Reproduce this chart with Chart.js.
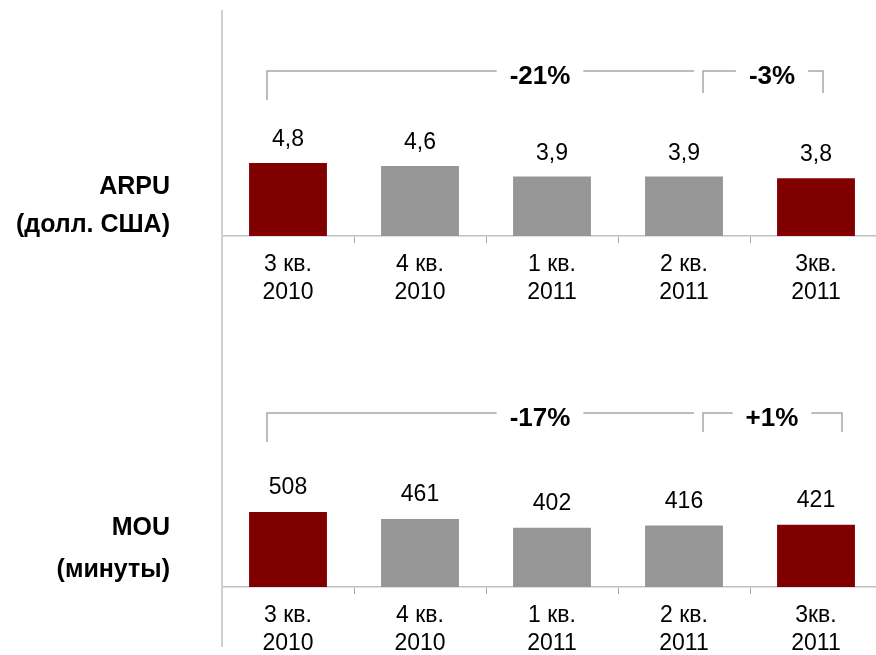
<!DOCTYPE html>
<html>
<head>
<meta charset="utf-8">
<script src="https://cdn.jsdelivr.net/npm/chart.js@4.4.0/dist/chart.umd.min.js"></script>
<style>
html, body { margin: 0; padding: 0; background: #fff; overflow: hidden; }
.box { position: relative; width: 882px; }
#top { height: 327px; }
#bottom { height: 328px; }
</style>
</head>
<body>
<div class="box" id="top"><canvas id="arpuChart"></canvas></div>
<div class="box" id="bottom"><canvas id="mouChart"></canvas></div>
<script>
var quarters = [['3 кв.', '2010'], ['4 кв.', '2010'], ['1 кв.', '2011'], ['2 кв.', '2011'], ['3кв.', '2011']]
var arpuValues = [4.8, 4.6, 3.9, 3.9, 3.8]
var mouValues = [508, 461, 402, 416, 421]
var barColors = ['#800000', '#969696', '#969696', '#969696', '#800000']
var arpuChanges = ['-21%', '-3%']
var mouChanges = ['-17%', '+1%']

var FONT = "'Liberation Sans', Arial, sans-serif"

function drawBracket(ctx, y, xl, xr, textX, text, dropL, dropR) {
    ctx.font = 'bold 26px ' + FONT
    let w = ctx.measureText(text).width
    ctx.strokeStyle = '#a6a6a6'
    ctx.lineWidth = 1.5
    ctx.beginPath()
    ctx.moveTo(xl, y + dropL)
    ctx.lineTo(xl, y)
    ctx.lineTo(textX - w / 2 - 13, y)
    ctx.moveTo(textX + w / 2 + 13, y)
    ctx.lineTo(xr, y)
    if (dropR) ctx.lineTo(xr, y + dropR)
    ctx.stroke()
    ctx.fillStyle = '#000'
    ctx.textAlign = 'center'
    ctx.textBaseline = 'middle'
    ctx.fillText(text, textX, y + 6)
}

// labels, brackets and the long vertical line
const decor = {
    id: 'decor',
    afterDraw(chart, args, opts) {
        const ctx = chart.ctx
        const x = chart.scales.x
        const area = chart.chartArea
        const c = i => x.getPixelForValue(i)
        ctx.save()
        // vertical axis line
        ctx.strokeStyle = '#d0d0d0'
        ctx.lineWidth = 2
        ctx.beginPath()
        ctx.moveTo(area.left, opts.lineTop)
        ctx.lineTo(area.left, opts.lineBottom)
        ctx.stroke()
        // values over the bars
        const meta = chart.getDatasetMeta(0)
        ctx.font = '23px ' + FONT
        ctx.fillStyle = '#000'
        ctx.textAlign = 'center'
        ctx.textBaseline = 'middle'
        meta.data.forEach((bar, i) => {
            let v = chart.data.datasets[0].data[i]
            ctx.fillText(String(v).replace('.', ','), bar.x, bar.y - opts.labelGap)
        })
        // left titles
        ctx.font = 'bold 25px ' + FONT
        ctx.textAlign = 'right'
        ctx.fillText(opts.title[0], 170, opts.titleY[0])
        ctx.fillText(opts.title[1], 170, opts.titleY[1])
        // change brackets
        const b = opts.brackets
        drawBracket(ctx, b.y, c(0) - 21, c(3) + 10, c(2) - 12, opts.changes[0], 29, 0)
        drawBracket(ctx, b.y, c(3) + 19, c(4) + b.rightEnd, c(4) - 44, opts.changes[1], b.drop, b.drop)
        ctx.restore()
    }
}

function makeChart(id, values, max, axisHeight, decorOpts) {
    return new Chart(document.getElementById(id), {
        type: 'bar',
        data: {
            labels: quarters,
            datasets: [{
                data: values,
                backgroundColor: barColors,
                borderWidth: 0,
                barPercentage: 0.59,
                categoryPercentage: 1
            }]
        },
        options: {
            responsive: true,
            maintainAspectRatio: false,
            animation: false,
            layout: { padding: { left: 222, top: 0, right: 0, bottom: 0 } },
            plugins: {
                legend: { display: false },
                tooltip: { enabled: false },
                decor: decorOpts
            },
            scales: {
                x: {
                    grid: { display: true, drawOnChartArea: false, drawTicks: true, tickLength: 7, color: '#a6a6a6', offset: true },
                    border: { display: true, color: '#bfbfbf', width: 1.5 },
                    ticks: { color: '#000', font: { family: FONT, size: 23, lineHeight: 1.22 }, padding: 8, maxRotation: 0, autoSkip: false },
                    afterFit: s => { s.height = axisHeight }
                },
                y: { display: false, min: 0, max: max }
            }
        },
        plugins: [decor]
    })
}

makeChart('arpuChart', arpuValues, 15.5, 91, {
    lineTop: 10, lineBottom: 327, labelGap: 23,
    title: ['ARPU', '(долл. США)'], titleY: [187, 225],
    changes: arpuChanges,
    brackets: { y: 71, drop: 22, rightEnd: 7 }
})
makeChart('mouChart', mouValues, 1761, 68, {
    lineTop: 0, lineBottom: 320, labelGap: 24,
    title: ['MOU', '(минуты)'], titleY: [201, 243],
    changes: mouChanges,
    brackets: { y: 86, drop: 19, rightEnd: 26 }
})
</script>
</body>
</html>
